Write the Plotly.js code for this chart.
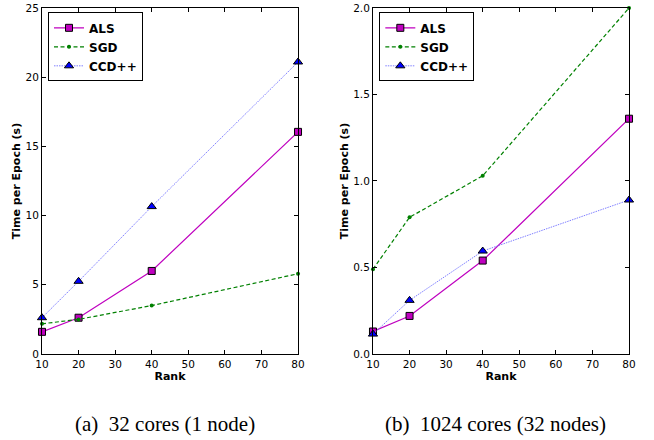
<!DOCTYPE html>
<html><head><meta charset="utf-8">
<script src="https://cdn.plot.ly/plotly-3.0.1.min.js"></script>
<style>html,body{margin:0;padding:0;background:#fff}#c{width:654px;height:440px}</style>
</head><body><div id="c"></div>
<script>
const ranks = [10, 20, 40, 80];
// (a) 32 cores (1 node)
const alsA = [1.6, 2.62, 6.0, 16.05];
const sgdA = [2.18, 2.5, 3.5, 5.8];
const ccdA = [2.62, 5.25, 10.65, 21.1];
// (b) 1024 cores (32 nodes)
const alsB = [0.13, 0.22, 0.54, 1.36];
const sgdB = [0.49, 0.79, 1.03, 2.0];
const ccdB = [0.115, 0.31, 0.595, 0.89];
const xTicks = [10, 20, 30, 40, 50, 60, 70, 80];
const yTicksA = [0, 5, 10, 15, 20, 25];
const yTicksB = [0, 0.5, 1.0, 1.5, 2.0];
const yTickTextB = ['0.0', '0.5', '1.0', '1.5', '2.0'];
const captions = ['(a)&nbsp;&nbsp;32 cores (1 node)', '(b)&nbsp;&nbsp;1024 cores (32 nodes)'];

const magenta = '#bf00bf', green = '#008000', blue = '#0000ff', lightblue = '#8080ff';
const styles = {
  ALS: {line: {color: magenta, width: 1.2, dash: 'solid'}, marker: {symbol: 'square', size: 7, color: magenta, line: {color: '#000', width: 1}}},
  SGD: {line: {color: green, width: 1.2, dash: '4px,2.5px'}, marker: {symbol: 'circle', size: 4, color: green, line: {color: green, width: 0}}},
  'CCD++': {line: {color: lightblue, width: 1, dash: '1.5px,1px'}, marker: {symbol: 'triangle-up', size: 8, color: blue, line: {color: '#000', width: 1}}}
};
function mk(y, name, xa, ya, leg) {
  const s = styles[name];
  return {x: ranks, y: y, name: name, xaxis: xa, yaxis: ya, legend: leg, mode: 'lines+markers',
    line: s.line, marker: s.marker, cliponaxis: false};
}
const data = [
  mk(alsA, 'ALS', 'x', 'y', 'legend'),
  mk(sgdA, 'SGD', 'x', 'y', 'legend'),
  mk(ccdA, 'CCD++', 'x', 'y', 'legend'),
  mk(alsB, 'ALS', 'x2', 'y2', 'legend2'),
  mk(sgdB, 'SGD', 'x2', 'y2', 'legend2'),
  mk(ccdB, 'CCD++', 'x2', 'y2', 'legend2')
];
const tickfont = {family: 'DejaVu Sans', size: 10.5, color: '#000'};
const titlefont = {family: 'DejaVu Sans', size: 11, color: '#000', weight: 'bold'};
function xaxis(dom, anchor) {
  return {domain: dom, anchor: anchor, range: [10, 80], tickvals: xTicks, ticks: 'inside', ticklen: 4,
    tickcolor: '#000', showline: true, linecolor: '#000', linewidth: 1, mirror: 'ticks', showgrid: false,
    zeroline: false, tickfont: tickfont, title: {text: '<b>Rank</b>', font: titlefont, standoff: 0}};
}
function yaxis(range, vals, text, anchor) {
  const a = {domain: [0.1955, 0.9818], anchor: anchor, range: range, tickvals: vals, ticks: 'inside', ticklen: 4,
    tickcolor: '#000', showline: true, linecolor: '#000', linewidth: 1, mirror: 'ticks', showgrid: false,
    zeroline: false, tickfont: tickfont, title: {text: '<b>Time per Epoch (s)</b>', font: titlefont, standoff: 2}};
  if (text) a.ticktext = text;
  return a;
}
const legStyle = {bgcolor: '#fff', bordercolor: '#000', borderwidth: 1,
  font: {family: 'DejaVu Sans', size: 12, color: '#000', weight: 'bold'}, xanchor: 'left', yanchor: 'top',
  tracegroupgap: 0, itemwidth: 30};
const capFont = {family: 'Liberation Serif', size: 21, color: '#000'};
const layout = {
  width: 654, height: 440, margin: {l: 0, r: 0, t: 0, b: 0}, paper_bgcolor: '#fff', plot_bgcolor: '#fff',
  showlegend: true,
  xaxis: xaxis([0.0642, 0.4557], 'y'),
  yaxis: yaxis([0, 25], yTicksA, null, 'x'),
  xaxis2: xaxis([0.5703, 0.9618], 'y2'),
  yaxis2: yaxis([0, 2], yTicksB, yTickTextB, 'x2'),
  legend: Object.assign({x: 0.0734, y: 0.972}, legStyle),
  legend2: Object.assign({x: 0.58, y: 0.972}, legStyle),
  annotations: [
    {text: captions[0], xref: 'paper', yref: 'paper', x: 73 / 654, y: 0.036, xanchor: 'left', yanchor: 'middle', showarrow: false, font: capFont},
    {text: captions[1], xref: 'paper', yref: 'paper', x: 383 / 654, y: 0.036, xanchor: 'left', yanchor: 'middle', showarrow: false, font: capFont}
  ]
};
Plotly.newPlot('c', data, layout, {staticPlot: true, displayModeBar: false});
</script></body></html>
